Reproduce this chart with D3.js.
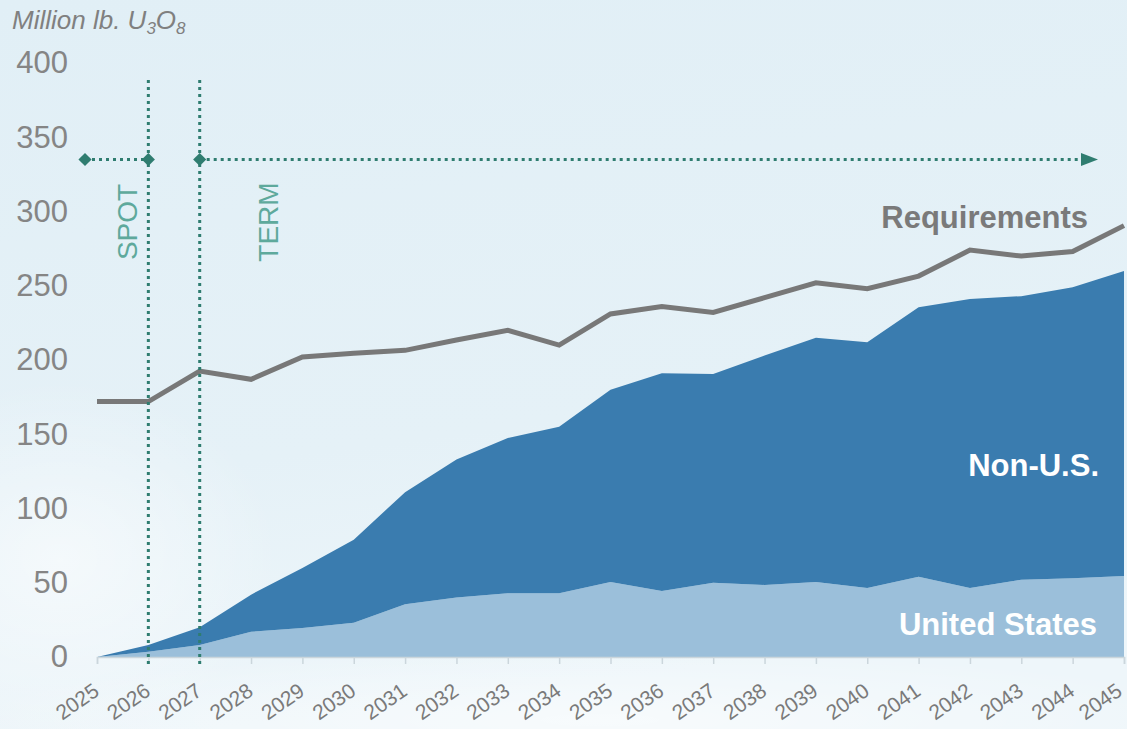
<!DOCTYPE html>
<html>
<head>
<meta charset="utf-8">
<script src="https://cdn.jsdelivr.net/npm/d3@7"></script>
<style>
  body { margin: 0; overflow: hidden; }
  text { font-family: "Liberation Sans", Arial, sans-serif; }
</style>
</head>
<body>
<script>
// chart data
const years = [2025, 2026, 2027, 2028, 2029, 2030, 2031, 2032, 2033, 2034, 2035,
               2036, 2037, 2038, 2039, 2040, 2041, 2042, 2043, 2044, 2045];
const unitedStates = [0, 3.5, 8, 17, 19.5, 23, 35.5, 40, 43, 43, 50.5,
                      44.5, 50, 48.5, 50.5, 46.5, 54, 46.5, 52, 53, 54.5];
const nonUS = [0, 4.5, 12, 25, 40.5, 56, 75.5, 93, 104.5, 112, 129.5,
               146.5, 140.5, 154.5, 164.5, 165.5, 181.5, 194.5, 191, 196, 205.5];
const requirements = [172, 172, 192.5, 187, 202, 204.5, 206.5, 213.5, 220, 210, 231,
                      236, 232, 242, 252, 248, 256.5, 274, 270, 273, 290.5];
const yTicks = [0, 50, 100, 150, 200, 250, 300, 350, 400];
const contractLevel = 335;   // height of the spot/term arrows
const spotYear = 2026;
const termYear = 2027;

const svgWidth = 1127;
const svgHeight = 729;
const margin = {left: 97, right: 3, top: 65, bottom: 71};

var svg = d3.select('body').append('svg')
    .attr('width', svgWidth)
    .attr('height', svgHeight);

// background
const defs = svg.append('defs');
const grad = defs.append('linearGradient')
    .attr('id', 'bg')
    .attr('x1', 0).attr('y1', 0).attr('x2', 0.2).attr('y2', 1);
grad.append('stop').attr('offset', '0%').attr('stop-color', '#e1eff6');
grad.append('stop').attr('offset', '65%').attr('stop-color', '#e5f1f7');
grad.append('stop').attr('offset', '100%').attr('stop-color', '#eef6fa');
svg.append('rect')
    .attr('width', svgWidth)
    .attr('height', svgHeight)
    .attr('fill', 'url(#bg)');

const cloud = defs.append('radialGradient')
    .attr('id', 'cloud');
cloud.append('stop').attr('offset', '0%').attr('stop-color', '#ffffff').attr('stop-opacity', 0.55);
cloud.append('stop').attr('offset', '100%').attr('stop-color', '#ffffff').attr('stop-opacity', 0);
svg.append('ellipse')
    .attr('cx', 60).attr('cy', 560)
    .attr('rx', 220).attr('ry', 180)
    .attr('fill', 'url(#cloud)');
svg.append('ellipse')
    .attr('cx', 600).attr('cy', 720)
    .attr('rx', 650).attr('ry', 70)
    .attr('fill', 'url(#cloud)');

const xScale = d3.scaleLinear()
    .domain([2025, 2045])
    .range([margin.left, svgWidth - margin.right]);

const yScale = d3.scaleLinear()
    .domain([0, 400])
    .range([svgHeight - margin.bottom - 1, margin.top - 2]);

const rows = years.map((y, i) => ({
    year: y,
    us: unitedStates[i],
    nonus: nonUS[i],
    req: requirements[i]
}));

const stack = d3.stack().keys(['us', 'nonus']);
const series = stack(rows);
const colors = {us: '#9bbfda', nonus: '#3a7caf'};

const area = d3.area()
    .x(d => xScale(d.data.year))
    .y0(d => yScale(d[0]))
    .y1(d => yScale(d[1]));

svg.selectAll('path.layer')
    .data(series)
    .join('path')
    .attr('class', 'layer')
    .attr('d', area)
    .attr('fill', d => colors[d.key]);

// requirements line
const line = d3.line()
    .x(d => xScale(d.year))
    .y(d => yScale(d.req));

svg.append('path')
    .datum(rows)
    .attr('d', line)
    .attr('fill', 'none')
    .attr('stroke', '#787878')
    .attr('stroke-width', 5);

// x axis
const xAxis = d3.axisBottom(xScale)
    .tickValues(years)
    .tickFormat(d3.format('d'))
    .tickSize(7);

const xGroup = svg.append('g')
    .attr('transform', `translate(0, ${yScale(0)})`)
    .call(xAxis);
xGroup.select('.domain').attr('stroke', '#cbd6dc').attr('stroke-width', 1.5);
xGroup.selectAll('.tick line').attr('stroke', '#cbd6dc').attr('stroke-width', 1.5);
xGroup.selectAll('.tick text')
    .attr('fill', '#7a7a7a')
    .attr('font-size', 21)
    .attr('text-anchor', 'end')
    .attr('x', 0)
    .attr('y', 0)
    .attr('dy', 0)
    // last label would run off the right edge
    .attr('transform', (d, i) => `translate(${i == years.length - 1 ? -1 : 3}, 37) rotate(-35)`);

// y axis, labels only
const yAxis = d3.axisLeft(yScale)
    .tickValues(yTicks)
    .tickSize(0)
    .tickPadding(0);
const yGroup = svg.append('g')
    .attr('transform', `translate(68, 0)`)
    .call(yAxis);
yGroup.select('.domain').remove();
yGroup.selectAll('.tick text')
    .attr('fill', '#858585')
    .attr('font-size', 31);

// spot / term markers
const teal = '#2f7d70';
[spotYear, termYear].forEach(yr => {
    svg.append('line')
        .attr('x1', xScale(yr)).attr('x2', xScale(yr))
        .attr('y1', 80).attr('y2', yScale(0) + 10)
        .attr('stroke', teal)
        .attr('stroke-width', 3)
        .attr('stroke-dasharray', '3,4');
});

const arrowY = yScale(contractLevel);
const arrowTip = xScale(2045) - 26;

svg.append('line')
    .attr('x1', xScale(2025) - 12).attr('x2', xScale(spotYear))
    .attr('y1', arrowY).attr('y2', arrowY)
    .attr('stroke', teal)
    .attr('stroke-width', 3)
    .attr('stroke-dasharray', '3,4');

svg.append('line')
    .attr('x1', xScale(termYear)).attr('x2', arrowTip - 16)
    .attr('y1', arrowY).attr('y2', arrowY)
    .attr('stroke', teal)
    .attr('stroke-width', 3)
    .attr('stroke-dasharray', '3,4');

svg.append('path')
    .attr('d', `M${arrowTip - 17},${arrowY - 6.5} L${arrowTip},${arrowY} L${arrowTip - 17},${arrowY + 6.5} Z`)
    .attr('fill', teal);

const diamonds = [xScale(2025) - 12, xScale(spotYear), xScale(termYear)];
svg.selectAll('path.diamond')
    .data(diamonds)
    .join('path')
    .attr('class', 'diamond')
    .attr('d', d3.symbol(d3.symbolDiamond2, 110))
    .attr('transform', d => `translate(${d}, ${arrowY})`)
    .attr('fill', teal);

svg.append('text')
    .text('SPOT')
    .attr('transform', `translate(137, 222) rotate(-90)`)
    .attr('text-anchor', 'middle')
    .attr('fill', '#5ea99c')
    .attr('font-size', 28);

svg.append('text')
    .text('TERM')
    .attr('transform', `translate(278, 222) rotate(-90)`)
    .attr('text-anchor', 'middle')
    .attr('fill', '#5ea99c')
    .attr('font-size', 28);

// labels
svg.append('text')
    .text('Requirements')
    .attr('x', 1088).attr('y', 228)
    .attr('text-anchor', 'end')
    .attr('font-weight', 'bold')
    .attr('font-size', 31)
    .attr('fill', '#7a7a7a');

svg.append('text')
    .text('Non-U.S.')
    .attr('x', 1099).attr('y', 476)
    .attr('text-anchor', 'end')
    .attr('font-weight', 'bold')
    .attr('font-size', 31)
    .attr('fill', '#ffffff');

svg.append('text')
    .text('United States')
    .attr('x', 1097).attr('y', 635)
    .attr('text-anchor', 'end')
    .attr('font-weight', 'bold')
    .attr('font-size', 31)
    .attr('fill', '#ffffff');

// unit title
const title = svg.append('text')
    .attr('x', 12).attr('y', 29)
    .attr('font-style', 'italic')
    .attr('font-size', 26)
    .attr('fill', '#808080');
title.append('tspan').text('Million lb. U');
title.append('tspan').text('3').attr('font-size', 17).attr('dy', 5);
title.append('tspan').text('O').attr('dy', -5);
title.append('tspan').text('8').attr('font-size', 17).attr('dy', 5);
</script>
</body>
</html>
